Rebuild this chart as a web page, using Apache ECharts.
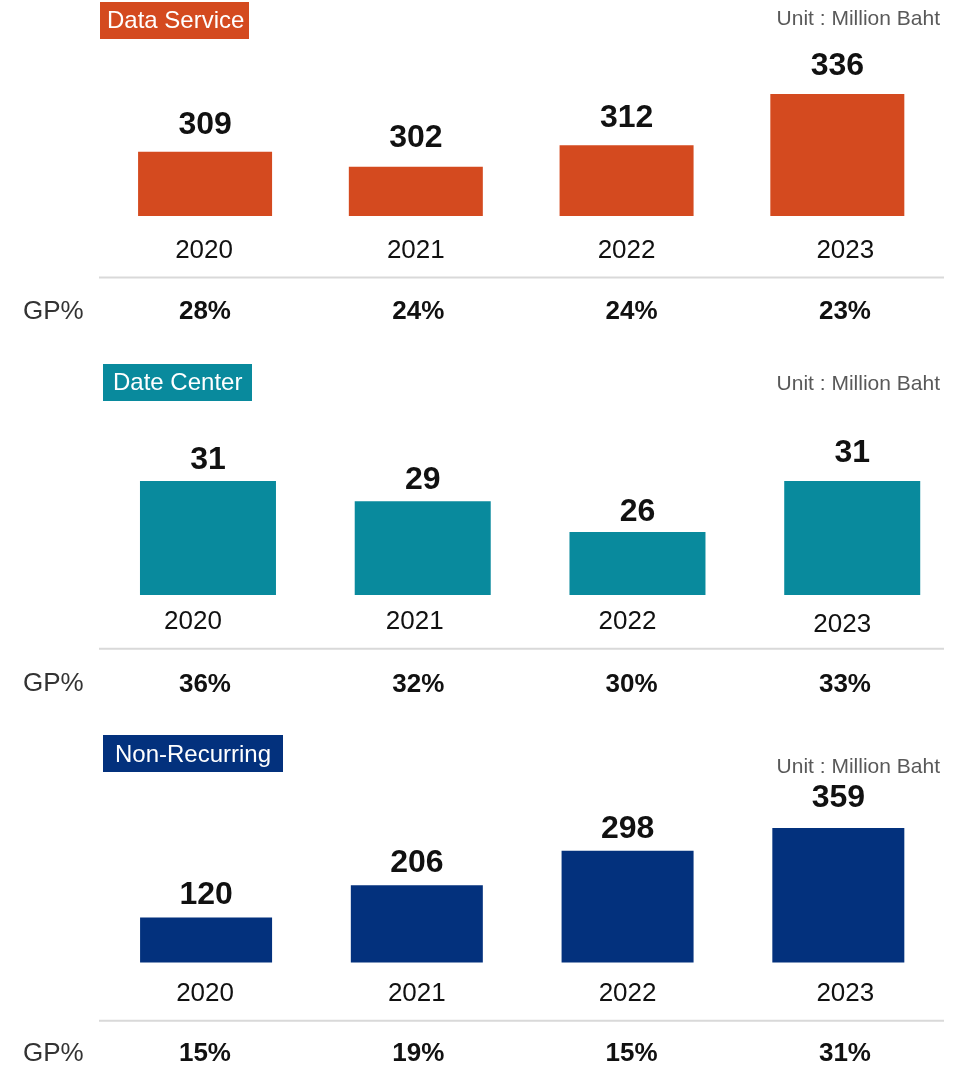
<!DOCTYPE html>
<html>
<head>
<meta charset="utf-8">
<script src="https://cdn.jsdelivr.net/npm/echarts@6/dist/echarts.min.js"></script>
<style>
  html, body { margin: 0; padding: 0; background: #ffffff; }
  #chart { width: 970px; height: 1067px; }
</style>
</head>
<body>
<div id="chart"></div>
<script>
// ---- data ----
const years = ['2020', '2021', '2022', '2023'];
const dataService = [309, 302, 312, 336];
const dataCenter = [31, 29, 26, 31];
const nonRecurring = [120, 206, 298, 359];
const gpDataService = [28, 24, 24, 23];
const gpDataCenter = [36, 32, 30, 33];
const gpNonRecurring = [15, 19, 15, 31];
const panelTitles = ['Data Service', 'Date Center', 'Non-Recurring'];
const unitLabel = 'Unit : Million Baht';
const gpLabel = 'GP%';

// ---- layout / style ----
const FONT = '"Liberation Sans", Arial, Helvetica, sans-serif';
const panels = [
  {
    title: panelTitles[0], color: '#D44A1F', values: dataService, gp: gpDataService,
    grid: { left: 99.7, width: 843, top: 94, height: 122 }, yMin: 279, yMax: 336, barWidth: 134,
    labelDist: [11, 12.7, 11.6, 12], yearMargin: 21.5, yearDx: [-1, 0, 0, 8], yearDy: [0, 0, 0, 0],
    sepY: 277.5, gpMargin: 21,
    titleBox: { x: 100, y: 2, w: 149, h: 37 }, titleTextX: 107, titleTextY: 21.7,
    unitY: 19.3, gpLabelY: 312
  },
  {
    title: panelTitles[1], color: '#098A9D', values: dataCenter, gp: gpDataCenter,
    grid: { left: 100.6, width: 859, top: 481, height: 114 }, yMin: 19.8, yMax: 31, barWidth: 136,
    labelDist: [5, 5, 4, 12], yearMargin: 14.2, yearDx: [-15, -8, -10, -10], yearDy: [0, 0, 0, 3],
    sepY: 648.7, gpMargin: 23.5,
    titleBox: { x: 103, y: 364, w: 149, h: 37 }, titleTextX: 113, titleTextY: 383.7,
    unitY: 384, gpLabelY: 684
  },
  {
    title: panelTitles[2], color: '#03317D', values: nonRecurring, gp: gpNonRecurring,
    grid: { left: 100.7, width: 843, top: 828, height: 134.5 }, yMin: 0, yMax: 359, barWidth: 132,
    labelDist: [6.3, 6.3, 5.7, 13.7], yearMargin: 18.3, yearDx: [-1, 0, 0, 7], yearDy: [0, 0, 0, 0],
    sepY: 1020.7, gpMargin: 21,
    titleBox: { x: 103, y: 735, w: 180, h: 37 }, titleTextX: 115, titleTextY: 755.3,
    unitY: 767.5, gpLabelY: 1054
  }
];
const gpGrid = { left: 98.3, width: 853.3 };

const grids = [], xAxes = [], yAxes = [], series = [], graphics = [];

panels.forEach((p, k) => {
  const barIdx = grids.length;
  grids.push({ left: p.grid.left, width: p.grid.width, top: p.grid.top, height: p.grid.height, containLabel: false });
  const gpIdx = grids.length;
  grids.push({ left: gpGrid.left, width: gpGrid.width, top: p.sepY - 1, height: 1, containLabel: false });

  const rich = {};
  years.forEach((y, i) => {
    const dx = p.yearDx[i], dy = p.yearDy[i];
    rich['y' + i] = {
      fontFamily: FONT, fontSize: 26, color: '#111111',
      padding: [dy, dx < 0 ? -2 * dx : 0, 0, dx > 0 ? 2 * dx : 0]
    };
  });

  xAxes.push({
    type: 'category', gridIndex: barIdx, data: years, position: 'bottom',
    axisLine: { show: false }, axisTick: { show: false }, splitLine: { show: false },
    axisLabel: {
      show: true, interval: 0, margin: p.yearMargin, verticalAlign: 'top',
      formatter: (v, i) => '{y' + i + '|' + v + '}', rich: rich
    }
  });
  yAxes.push({ type: 'value', gridIndex: barIdx, min: p.yMin, max: p.yMax, show: false });

  xAxes.push({
    type: 'category', gridIndex: gpIdx, data: years, position: 'bottom',
    axisLine: { show: false }, axisTick: { show: false }, splitLine: { show: false },
    axisLabel: {
      show: true, interval: 0, margin: p.gpMargin, verticalAlign: 'top',
      fontFamily: FONT, fontSize: 26, fontWeight: 'bold', color: '#111111',
      formatter: (v, i) => p.gp[i] + '%'
    }
  });
  yAxes.push({ type: 'value', gridIndex: gpIdx, min: 0, max: 1, show: false });

  series.push({
    type: 'bar', name: p.title, xAxisIndex: barIdx, yAxisIndex: barIdx,
    barWidth: p.barWidth, itemStyle: { color: p.color },
    silent: true, animation: false,
    data: p.values.map((v, i) => ({ value: v, label: { distance: p.labelDist[i] } })),
    label: {
      show: true, position: 'top', fontFamily: FONT, fontSize: 32, fontWeight: 'bold', color: '#111111'
    }
  });

  // title box
  graphics.push({
    type: 'rect', shape: { x: p.titleBox.x, y: p.titleBox.y, width: p.titleBox.w, height: p.titleBox.h },
    style: { fill: p.color }, silent: true
  });
  graphics.push({
    type: 'text', x: p.titleTextX, y: p.titleTextY, silent: true,
    style: { text: p.title, fill: '#ffffff', font: '24px ' + FONT,
      align: 'left', verticalAlign: 'middle', textAlign: 'left', textVerticalAlign: 'middle' }
  });
  // unit
  graphics.push({
    type: 'text', x: 940, y: p.unitY, silent: true,
    style: { text: unitLabel, fill: '#595959', font: '21px ' + FONT,
      align: 'right', verticalAlign: 'middle', textAlign: 'right', textVerticalAlign: 'middle' }
  });
  // GP% row label
  graphics.push({
    type: 'text', x: 23, y: p.gpLabelY, silent: true,
    style: { text: gpLabel, fill: '#333333', font: '26px ' + FONT,
      align: 'left', verticalAlign: 'middle', textAlign: 'left', textVerticalAlign: 'middle' }
  });
  // separator
  graphics.push({
    type: 'line', shape: { x1: 99, y1: p.sepY, x2: 944, y2: p.sepY }, silent: true,
    style: { stroke: '#D9D9D9', lineWidth: 2 }
  });
});

const chart = echarts.init(document.getElementById('chart'), null, { renderer: 'canvas' });
chart.setOption({
  backgroundColor: '#ffffff',
  animation: false,
  grid: grids,
  xAxis: xAxes,
  yAxis: yAxes,
  series: series,
  graphic: graphics
});
</script>
</body>
</html>
